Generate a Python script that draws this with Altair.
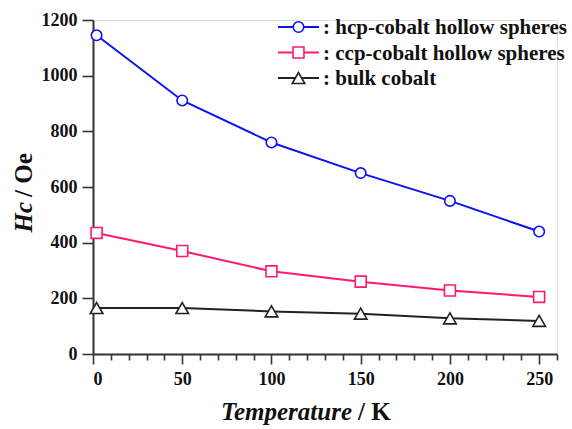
import altair as alt
import pandas as pd

temps = [2, 50, 100, 150, 200, 250]
hcp = [1145, 911, 760, 650, 550, 440]
ccp = [435, 370, 297, 260, 228, 205]
bulk = [165, 165, 153, 145, 128, 119]

series_names = ["hcp-cobalt hollow spheres", "ccp-cobalt hollow spheres", "bulk cobalt"]
series_values = [hcp, ccp, bulk]
series_colors = ["#0A14F0", "#FF1A6E", "#222222"]
series_shapes = ["circle", "square", "triangle-up"]
series_sizes = [110, 120, 160]

x_ticks = list(range(0, 261, 10))
y_ticks = [0, 200, 400, 600, 800, 1000, 1200]

FONT = "Liberation Serif"
W, H = 464, 334

x_scale = alt.Scale(domain=[0, 260], nice=False, zero=False)
y_scale = alt.Scale(domain=[0, 1200], nice=False)

x_axis = alt.Axis(
    values=x_ticks,
    title=None,
    grid=False,
    format="d",
    labelExpr="datum.value % 50 === 0 ? datum.label : ''",
    labelOverlap=False,
    tickSize={"condition": {"test": "datum.value % 50 === 0", "value": 10}, "value": 6},
    labelFontSize=18,
    labelFont=FONT,
    labelFontWeight="bold",
    labelColor="#111",
    labelPadding=6,
    domainColor="#333",
    domainWidth=2,
    tickColor="#333",
    tickWidth=1.6,
)
y_axis = alt.Axis(
    values=y_ticks,
    title=None,
    grid=False,
    format="d",
    tickSize=11,
    labelFontSize=18,
    labelFont=FONT,
    labelFontWeight="bold",
    labelColor="#111",
    labelPadding=5,
    domainColor="#333",
    domainWidth=2,
    tickColor="#333",
    tickWidth=1.6,
)

layers = []
for i, (name, vals, col, shp, sz) in enumerate(
    zip(series_names, series_values, series_colors, series_shapes, series_sizes)
):
    df = pd.DataFrame({"T": temps, "Hc": vals, "series": name})
    base = alt.Chart(df).encode(
        x=alt.X("T:Q", scale=x_scale, axis=x_axis),
        y=alt.Y("Hc:Q", scale=y_scale, axis=y_axis),
    )
    layers.append(base.mark_line(color=col, strokeWidth=2))
    layers.append(
        base.mark_point(shape=shp, size=sz, color=col, filled=False, fill="white",
                        fillOpacity=1, strokeWidth=1.6, opacity=1)
    )
    # legend entry
    ly = 7 + i * 25.5
    ldf = pd.DataFrame({"label": [": " + name]})
    lb = alt.Chart(ldf)
    layers.append(lb.mark_rule(color=col, strokeWidth=2).encode(
        x=alt.value(185), x2=alt.value(226), y=alt.value(ly)))
    layers.append(lb.mark_point(shape=shp, size=sz, color=col, filled=False, fill="white",
                                fillOpacity=1, strokeWidth=1.6, opacity=1).encode(
        x=alt.value(205.5), y=alt.value(ly)))
    layers.append(lb.mark_text(align="left", baseline="middle", font=FONT, fontSize=21,
                               fontWeight="bold", color="#111").encode(
        x=alt.value(230), y=alt.value(ly + 1), text="label:N"))

# axis titles as mixed-style text
tdf = pd.DataFrame({"a": ["Temperature"], "b": ["/ K"], "c": ["Hc"], "d": ["/ Oe"]})
tb = alt.Chart(tdf)
layers.append(tb.mark_text(align="right", baseline="alphabetic", font=FONT, fontSize=25,
                           fontWeight="bold", fontStyle="italic", color="#111").encode(
    x=alt.value(259), y=alt.value(400), text="a:N"))
layers.append(tb.mark_text(align="left", baseline="alphabetic", font=FONT, fontSize=25,
                           fontWeight="bold", color="#111").encode(
    x=alt.value(265), y=alt.value(400), text="b:N"))
layers.append(tb.mark_text(align="right", baseline="alphabetic", font=FONT, fontSize=25,
                           fontWeight="bold", fontStyle="italic", color="#111", angle=270).encode(
    x=alt.value(-61), y=alt.value(182), text="c:N"))
layers.append(tb.mark_text(align="left", baseline="alphabetic", font=FONT, fontSize=25,
                           fontWeight="bold", color="#111", angle=270).encode(
    x=alt.value(-61), y=alt.value(177), text="d:N"))

chart = alt.layer(*layers).properties(
    width=W,
    height=H,
    autosize=alt.AutoSizeParams(type="none"),
    padding={"left": 93, "top": 20, "right": 15, "bottom": 75},
).configure_view(stroke=None).configure(background="white")

chart.save("out.html", embed_options={"renderer": "svg", "actions": False})
